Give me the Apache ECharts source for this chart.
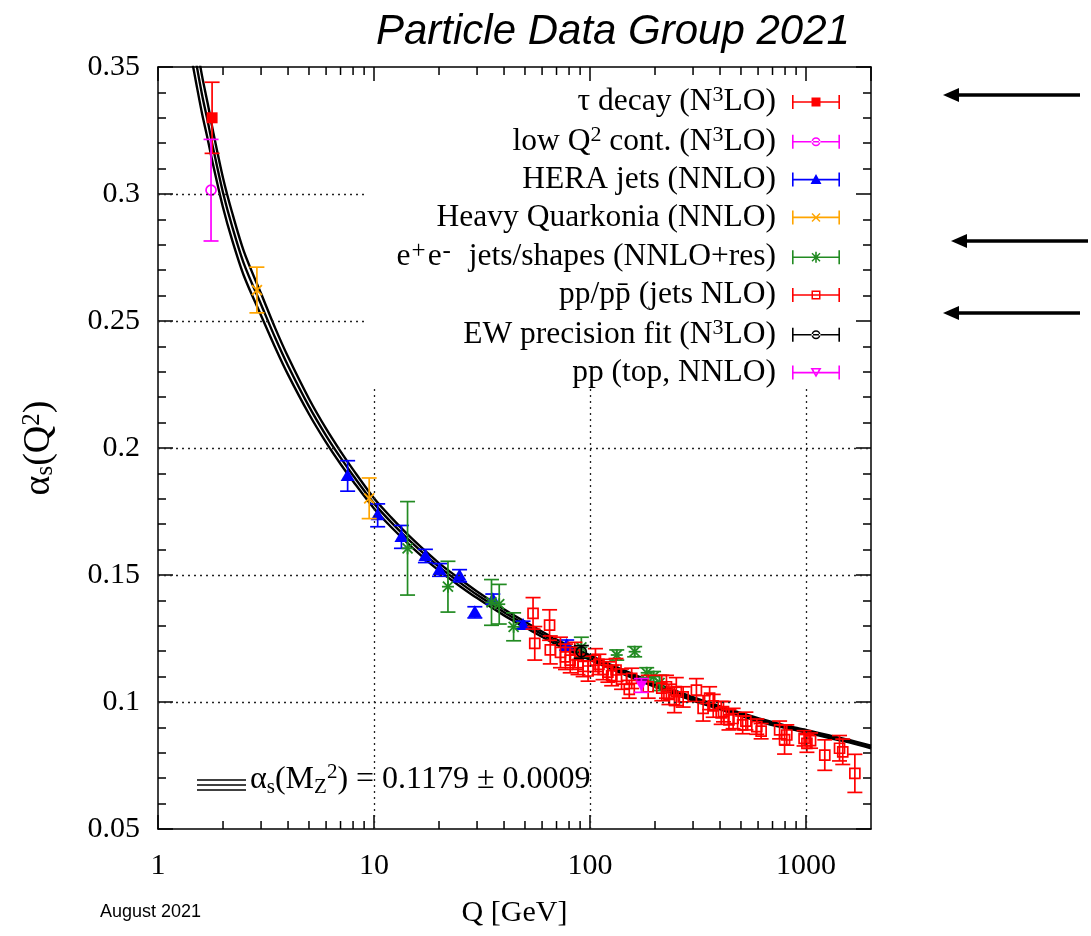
<!DOCTYPE html>
<html>
<head>
<meta charset="utf-8">
<script src="https://cdn.jsdelivr.net/npm/echarts@6/dist/echarts.min.js"></script>
<style>
html, body { margin: 0; padding: 0; background: #fff; }
#main { width: 1091px; height: 936px; }
</style>
</head>
<body>
<div id="main"></div>
<script>
// running coupling band: Q, central, upper and lower edge
const curveQ = [1.45, 1.5, 1.6, 1.7, 1.8, 2.0, 2.2, 2.5, 3.0, 3.5, 4.0, 5.0, 6.0, 7.0, 8.0, 10, 12, 15, 20, 25, 30, 40, 50, 70, 100, 130, 160, 200, 300, 400, 500, 630, 800, 1000, 1300, 1600, 2000];
const curveMid = [0.359, 0.352, 0.339, 0.3285, 0.318, 0.3005, 0.2875, 0.2725, 0.2565, 0.2431, 0.2324, 0.2164, 0.2049, 0.1962, 0.1892, 0.1782, 0.1708, 0.1626, 0.1532, 0.1470, 0.1422, 0.1353, 0.1305, 0.1236, 0.1175, 0.1132, 0.1100, 0.1067, 0.1012, 0.0977, 0.0951, 0.0925, 0.0903, 0.0885, 0.0862, 0.0845, 0.0823];
const curveUp = [0.3673, 0.3600, 0.3464, 0.3355, 0.3245, 0.3063, 0.2929, 0.2773, 0.2608, 0.2469, 0.2359, 0.2194, 0.2076, 0.1987, 0.1915, 0.1802, 0.1727, 0.1643, 0.1547, 0.1484, 0.1435, 0.1365, 0.1316, 0.1246, 0.1184, 0.1140, 0.1108, 0.1074, 0.1019, 0.0983, 0.0957, 0.0931, 0.0908, 0.0890, 0.0867, 0.0850, 0.0828];
const curveLow = [0.3507, 0.3440, 0.3316, 0.3215, 0.3115, 0.2947, 0.2821, 0.2677, 0.2522, 0.2393, 0.2289, 0.2134, 0.2022, 0.1937, 0.1869, 0.1762, 0.1689, 0.1609, 0.1517, 0.1456, 0.1409, 0.1341, 0.1294, 0.1226, 0.1166, 0.1124, 0.1092, 0.1060, 0.1005, 0.0971, 0.0945, 0.0919, 0.0898, 0.0880, 0.0857, 0.0840, 0.0818];

// measurements: [Q (GeV), alpha_s, error]
const tauDecay = [[1.78, 0.330, 0.014]];
const lowQ2 = [[1.76, 0.3015, 0.020]];
const heraJets = [[7.55, 0.189, 0.006], [10.4, 0.1735, 0.0045], [13.4, 0.165, 0.0045], [17.3, 0.1575, 0.0026], [20.1, 0.152, 0.0025], [24.9, 0.1497, 0.0024], [29.3, 0.1353, 0.0022], [35.5, 0.1405, 0.002], [49, 0.1303, 0.0015], [78, 0.1224, 0.002]];
const quarkonia = [[2.87, 0.2622, 0.009], [9.5, 0.1802, 0.008]];
const eeJets = [[14.3, 0.1605, 0.0184], [22, 0.1454, 0.010], [35, 0.1392, 0.009], [38, 0.1385, 0.0078], [44.3, 0.1296, 0.0055], [91.2, 0.1215, 0.004], [133, 0.1185, 0.002], [161, 0.1198, 0.002], [183, 0.1115, 0.002], [197, 0.1100, 0.002], [210, 0.1075, 0.003]];
const ppJets = [[54.5, 0.1349, 0.0062], [55.5, 0.1231, 0.0066], [65, 0.1303, 0.0060], [65.5, 0.1205, 0.0055], [73, 0.1195, 0.0060], [77, 0.1178, 0.0050], [81, 0.1165, 0.0050], [85, 0.1185, 0.0050], [88, 0.1148, 0.0040], [93, 0.1140, 0.0040], [98, 0.1122, 0.0040], [106, 0.1165, 0.0045], [110, 0.1148, 0.0040], [115, 0.1128, 0.0040], [121, 0.1118, 0.0040], [126, 0.1104, 0.0040], [132, 0.1126, 0.0045], [140, 0.1090, 0.0040], [152, 0.1050, 0.0035], [156, 0.1093, 0.0040], [186, 0.1060, 0.0045], [215, 0.1055, 0.0050], [226, 0.1060, 0.0045], [232, 0.1030, 0.0040], [246, 0.1008, 0.0050], [251, 0.1041, 0.0055], [270, 0.1020, 0.0040], [311, 0.1047, 0.0045], [334, 0.0975, 0.0050], [358, 0.1015, 0.0045], [372, 0.0985, 0.0045], [405, 0.0957, 0.0045], [415, 0.0962, 0.0040], [440, 0.0930, 0.0040], [460, 0.0935, 0.0040], [509, 0.0910, 0.0035], [527, 0.0925, 0.0035], [592, 0.0903, 0.0030], [620, 0.0885, 0.0030], [755, 0.0890, 0.0035], [796, 0.0852, 0.0057], [815, 0.0870, 0.0040], [980, 0.0857, 0.0030], [1010, 0.0837, 0.0035], [1050, 0.0848, 0.0030], [1222, 0.0791, 0.0060], [1430, 0.0818, 0.0050], [1480, 0.0804, 0.0050], [1684, 0.0719, 0.0075]];
const ewFit = [[91.2, 0.1197, 0.0025]];
const topPairs = [[173, 0.1065, 0.0027]];

const xMinorTicks = [2, 3, 4, 5, 6, 7, 8, 9, 20, 30, 40, 50, 60, 70, 80, 90, 200, 300, 400, 500, 600, 700, 800, 900];

const SERIF = 'Liberation Serif';

// legend labels with super/subscripts
const legendRich = {
  'τ decay (N3LO)': '{t|τ decay (N}{p|3}{t|LO)}{e| }',
  'low Q2 cont. (N3LO)': '{t|low Q}{p|2}{t| cont. (N}{p|3}{t|LO)}{e| }',
  'HERA jets (NNLO)': '{t|HERA jets (NNLO)}{e| }',
  'Heavy Quarkonia (NNLO)': '{t|Heavy Quarkonia (NNLO)}{e| }',
  'e+e- jets/shapes (NNLO+res)': '{t|e}{q|+}{t|e}{q|-}{t|  jets/shapes (NNLO+res)}{e| }',
  'pp/ppbar (jets NLO)': '{t|pp/pp\u0304 (jets NLO)}{e| }',
  'EW precision fit (N3LO)': '{t|EW precision fit (N}{p|3}{t|LO)}{e| }',
  'pp (top, NNLO)': '{t|pp (top, NNLO)}{e| }'
};

// legend icons: error bar with end caps plus the point symbol, 48x14 box
const BAR = 'M0 6.2 H48 V7.8 H0 Z M0 0 H1.6 V14 H0 Z M46.4 0 H48 V14 H46.4 Z ';
const icons = {
  fsquare: 'path://' + BAR + 'M19.5 2.5 H28.5 V11.5 H19.5 Z',
  ocircle: 'path://' + BAR + 'M28.5 7 A4.5 4.5 0 1 0 19.5 7 A4.5 4.5 0 1 0 28.5 7 Z M27 7 A3 3 0 1 1 21 7 A3 3 0 1 1 27 7 Z',
  ftri: 'path://' + BAR + 'M24 1.5 L29.5 11.5 L18.5 11.5 Z',
  cross: 'path://' + BAR + 'M19.5 3.5 L20.5 2.5 L28.5 10.5 L27.5 11.5 Z M27.5 2.5 L28.5 3.5 L20.5 11.5 L19.5 10.5 Z',
  star: 'path://' + BAR + 'M19.5 3.5 L20.5 2.5 L28.5 10.5 L27.5 11.5 Z M27.5 2.5 L28.5 3.5 L20.5 11.5 L19.5 10.5 Z M23.2 1.5 H24.8 V12.5 H23.2 Z',
  osquare: 'path://' + BAR + 'M19.5 2.5 H28.5 V11.5 H19.5 Z M21 4 V10 H27 V4 Z',
  itri: 'path://' + BAR + 'M18.5 2.5 H29.5 L24 12 Z M21.3 4 L24 9 L26.7 4 Z'
};

function seg(x1, y1, x2, y2, color, w) {
  return { type: 'line', shape: { x1: x1, y1: y1, x2: x2, y2: y2 }, style: { stroke: color, lineWidth: w } };
}

function marker(kind, x, y, color) {
  const open = { stroke: color, lineWidth: 1.7, fill: 'none' };
  switch (kind) {
    case 'fsquare': return { type: 'rect', shape: { x: x - 5.5, y: y - 5.5, width: 11, height: 11 }, style: { fill: color } };
    case 'osquare': return { type: 'rect', shape: { x: x - 5, y: y - 5, width: 10, height: 10 }, style: open };
    case 'ocircle': return { type: 'circle', shape: { cx: x, cy: y, r: 5 }, style: open };
    case 'ftri': return { type: 'polygon', shape: { points: [[x, y - 7], [x + 7, y + 5], [x - 7, y + 5]] }, style: { fill: color } };
    case 'itri': return { type: 'polygon', shape: { points: [[x - 6, y - 5], [x + 6, y - 5], [x, y + 6]] }, style: { fill: color } };
    case 'cross': return { type: 'group', children: [seg(x - 5, y - 5, x + 5, y + 5, color, 1.8), seg(x - 5, y + 5, x + 5, y - 5, color, 1.8)] };
    default: return { type: 'group', children: [
      seg(x - 5, y - 5, x + 5, y + 5, color, 1.8), seg(x - 5, y + 5, x + 5, y - 5, color, 1.8),
      seg(x, y - 6, x, y + 6, color, 1.8), seg(x - 6, y, x + 6, y, color, 1.8)] };
  }
}

function errorSeries(name, data, color, kind) {
  return {
    name: name,
    type: 'custom',
    data: data,
    z: 4,
    itemStyle: { color: color },
    encode: { x: 0, y: 1 },
    renderItem: function (params, api) {
      const q = api.value(0), a = api.value(1), e = api.value(2);
      const c = api.coord([q, a]);
      const top = api.coord([q, a + e])[1];
      const bot = api.coord([q, a - e])[1];
      const w = 7.5;
      return { type: 'group', children: [
        seg(c[0], top, c[0], bot, color, 1.7),
        seg(c[0] - w, top, c[0] + w, top, color, 1.7),
        seg(c[0] - w, bot, c[0] + w, bot, color, 1.7),
        marker(kind, c[0], c[1], color)
      ] };
    }
  };
}

function band(values) {
  return {
    type: 'line',
    data: curveQ.map(function (q, i) { return [q, values[i]]; }),
    symbol: 'none',
    smooth: 0.3,
    z: 2,
    silent: true,
    lineStyle: { color: '#000', width: 2.4 }
  };
}

const gridSegs = [
  [[1, 0.30], [9.3, 0.30]], [[1, 0.25], [9.3, 0.25]],
  [[1, 0.20], [2000, 0.20]], [[1, 0.15], [2000, 0.15]], [[1, 0.10], [2000, 0.10]],
  [[10, 0.05], [10, 0.2236]], [[100, 0.05], [100, 0.2236]], [[1000, 0.05], [1000, 0.2236]]
];

const midBand = band(curveMid);
midBand.markLine = {
  silent: true,
  symbol: ['none', 'none'],
  label: { show: false },
  lineStyle: { type: [2, 4], color: '#222', width: 1.3 },
  data: gridSegs.map(function (s) { return [{ coord: s[0] }, { coord: s[1] }]; })
};

const legendNames = ['τ decay (N3LO)', 'low Q2 cont. (N3LO)', 'HERA jets (NNLO)', 'Heavy Quarkonia (NNLO)', 'e+e- jets/shapes (NNLO+res)', 'pp/ppbar (jets NLO)', 'EW precision fit (N3LO)', 'pp (top, NNLO)'];
const legendColors = ['#ff0000', '#ff00ff', '#0000ff', '#ffa500', '#228b22', '#ff0000', '#000000', '#ff00ff'];
const legendIcons = [icons.fsquare, icons.ocircle, icons.ftri, icons.cross, icons.star, icons.osquare, icons.ocircle, icons.itri];

const axisBlack = { lineStyle: { color: '#000', width: 1.5 } };

const option = {
  animation: false,
  backgroundColor: '#fff',
  title: {
    text: 'Particle Data Group 2021',
    left: 371, top: 6,
    textStyle: { fontFamily: 'Liberation Sans', fontStyle: 'italic', fontWeight: 'normal', fontSize: 42, color: '#000' }
  },
  grid: { left: 158, right: 220, top: 67, bottom: 107 },
  legend: {
    orient: 'vertical',
    align: 'right',
    right: 251, top: 84,
    padding: 0,
    itemWidth: 48, itemHeight: 14,
    itemGap: 5.8,
    selectedMode: false,
    data: legendNames.map(function (n, i) {
      return { name: n, icon: legendIcons[i], itemStyle: { color: legendColors[i], borderWidth: 0 } };
    }),
    formatter: function (n) { return legendRich[n]; },
    textStyle: {
      fontFamily: SERIF, fontSize: 31.5, color: '#000',
      rich: {
        t: { fontFamily: SERIF, fontSize: 31.5, lineHeight: 36, color: '#000' },
        p: { fontFamily: SERIF, fontSize: 22, lineHeight: 20, verticalAlign: 'top', color: '#000' },
        q: { fontFamily: SERIF, fontSize: 25, lineHeight: 20, verticalAlign: 'top', padding: [0, 2, 0, 1], color: '#000' },
        e: { width: 11 }
      }
    }
  },
  xAxis: [{
    type: 'log', logBase: 10, min: 1, max: 2000,
    name: 'Q [GeV]', nameLocation: 'middle', nameGap: 69,
    nameTextStyle: { fontFamily: SERIF, fontSize: 30, color: '#000' },
    axisLine: axisBlack,
    axisTick: { inside: true, length: 14, lineStyle: { color: '#000', width: 1.5 } },
    axisLabel: { margin: 22, fontFamily: SERIF, fontSize: 30, color: '#000', showMaxLabel: false,
      formatter: function (v) { return String(Math.round(v)); } },
    splitLine: { show: false }
  }, {
    type: 'log', logBase: 10, min: 1, max: 2000, position: 'top',
    axisLine: axisBlack,
    axisTick: { inside: true, length: 14, lineStyle: { color: '#000', width: 1.5 } },
    axisLabel: { show: false },
    splitLine: { show: false }
  }],
  yAxis: [{
    type: 'value', min: 0.05, max: 0.35, interval: 0.05,
    name: '{a|α}{s|s}{a|(Q}{p|2}{a|)}', nameLocation: 'middle', nameGap: 100, nameRotate: 90,
    nameTextStyle: {
      fontFamily: SERIF, fontSize: 38, color: '#000',
      rich: {
        a: { fontFamily: SERIF, fontSize: 38, lineHeight: 38, color: '#000' },
        s: { fontFamily: SERIF, fontSize: 25, lineHeight: 22, verticalAlign: 'bottom', color: '#000' },
        p: { fontFamily: SERIF, fontSize: 25, lineHeight: 22, verticalAlign: 'top', color: '#000' }
      }
    },
    axisLine: axisBlack,
    axisTick: { inside: true, length: 15, lineStyle: { color: '#000', width: 1.5 } },
    minorTick: { show: true, splitNumber: 5, length: 8, lineStyle: { color: '#000', width: 1.5 } },
    axisLabel: { margin: 18, fontFamily: SERIF, fontSize: 30, color: '#000' },
    splitLine: { show: false }
  }, {
    type: 'value', min: 0.05, max: 0.35, interval: 0.05, position: 'right',
    axisLine: axisBlack,
    axisTick: { inside: true, length: 15, lineStyle: { color: '#000', width: 1.5 } },
    minorTick: { show: true, splitNumber: 5, length: 8, lineStyle: { color: '#000', width: 1.5 } },
    axisLabel: { show: false },
    splitLine: { show: false }
  }],
  series: [
    {
      // minor log ticks on the bottom and top frame
      type: 'custom',
      silent: true,
      z: 1,
      data: xMinorTicks.map(function (q) { return [q, 0.1]; }),
      renderItem: function (params, api) {
        const cs = params.coordSys;
        const x = api.coord([api.value(0), 0.1])[0];
        const yb = cs.y + cs.height, yt = cs.y;
        return { type: 'group', children: [
          seg(x, yb, x, yb - 8, '#000', 1.5),
          seg(x, yt, x, yt + 8, '#000', 1.5)
        ] };
      }
    },
    midBand,
    band(curveUp),
    band(curveLow),
    errorSeries(legendNames[0], tauDecay, legendColors[0], 'fsquare'),
    errorSeries(legendNames[1], lowQ2, legendColors[1], 'ocircle'),
    errorSeries(legendNames[2], heraJets, legendColors[2], 'ftri'),
    errorSeries(legendNames[3], quarkonia, legendColors[3], 'cross'),
    errorSeries(legendNames[4], eeJets, legendColors[4], 'star'),
    errorSeries(legendNames[5], ppJets, legendColors[5], 'osquare'),
    errorSeries(legendNames[6], ewFit, legendColors[6], 'ocircle'),
    errorSeries(legendNames[7], topPairs, legendColors[7], 'itri')
  ],
  graphic: [
    // three-line band sample and the world-average caption
    { type: 'line', shape: { x1: 197, y1: 780, x2: 246, y2: 780 }, style: { stroke: '#000', lineWidth: 1.5 } },
    { type: 'line', shape: { x1: 197, y1: 785, x2: 246, y2: 785 }, style: { stroke: '#000', lineWidth: 1.5 } },
    { type: 'line', shape: { x1: 197, y1: 790, x2: 246, y2: 790 }, style: { stroke: '#000', lineWidth: 1.5 } },
    {
      type: 'text', left: 250, top: 762,
      style: {
        text: '{a|α}{s|s}{a|(M}{s|Z}{p|2}{a|) = 0.1179 ± 0.0009}',
        fill: '#000',
        rich: {
          a: { fontFamily: SERIF, fontSize: 32, lineHeight: 36, fill: '#000' },
          s: { fontFamily: SERIF, fontSize: 21, lineHeight: 21, verticalAlign: 'bottom', fill: '#000' },
          p: { fontFamily: SERIF, fontSize: 21, lineHeight: 21, verticalAlign: 'top', fill: '#000' }
        }
      }
    },
    {
      type: 'text', left: 100, top: 903,
      style: { text: 'August 2021', fill: '#000', font: '18px "Liberation Sans"' }
    },
    // arrows pointing at legend entries
    { type: 'line', shape: { x1: 1080, y1: 95, x2: 955, y2: 95 }, style: { stroke: '#000', lineWidth: 3.5 } },
    { type: 'polygon', shape: { points: [[943, 95], [959, 88], [959, 102]] }, style: { fill: '#000' } },
    { type: 'line', shape: { x1: 1088, y1: 241, x2: 963, y2: 241 }, style: { stroke: '#000', lineWidth: 3.5 } },
    { type: 'polygon', shape: { points: [[951, 241], [967, 234], [967, 248]] }, style: { fill: '#000' } },
    { type: 'line', shape: { x1: 1080, y1: 313, x2: 955, y2: 313 }, style: { stroke: '#000', lineWidth: 3.5 } },
    { type: 'polygon', shape: { points: [[943, 313], [959, 306], [959, 320]] }, style: { fill: '#000' } }
  ]
};

const chart = echarts.init(document.getElementById('main'));
chart.setOption(option);
</script>
</body>
</html>
